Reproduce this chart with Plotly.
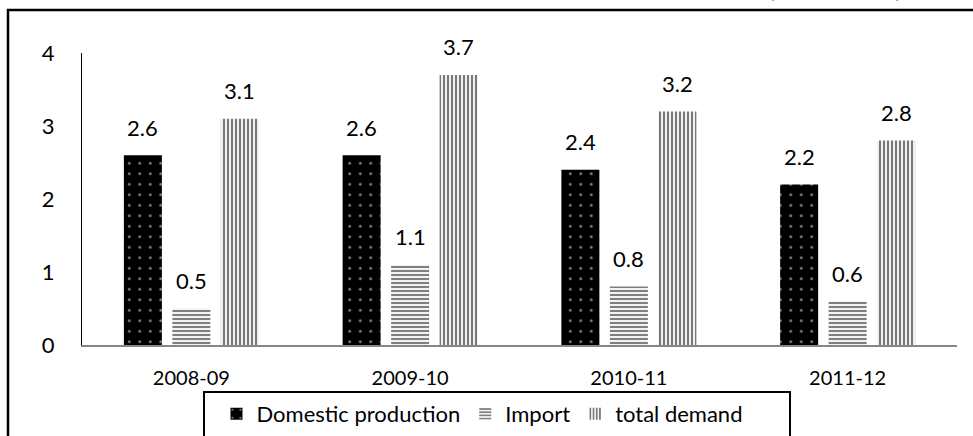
import plotly.graph_objects as go

# data
years = ["2008-09", "2009-10", "2010-11", "2011-12"]
domestic_production = [2.6, 2.6, 2.4, 2.2]
imports = [0.5, 1.1, 0.8, 0.6]
total_demand = [3.1, 3.7, 3.2, 2.8]
y_ticks = [0, 1, 2, 3, 4]

W, H = 973, 436
M = dict(l=82, r=16, t=53, b=91, autoexpand=False)
PLOT_W = W - M["l"] - M["r"]
PLOT_H = H - M["t"] - M["b"]
BARGAP = 0.335
BARGROUPGAP = 0.216
FONT = "Lato"
FS = 22


def px_x(px):
    """pixel column -> paper x"""
    return (px - M["l"]) / PLOT_W


def px_y(py):
    """pixel row -> paper y"""
    return (H - M["b"] - py) / PLOT_H


series = [
    ("Domestic production", domestic_production,
     dict(shape=".", fgcolor="white", bgcolor="black", size=10.5, solidity=0.06)),
    ("Import", imports,
     dict(shape="-", fgcolor="black", bgcolor="white", size=4, solidity=0.55)),
    ("total demand", total_demand,
     dict(shape="|", fgcolor="black", bgcolor="#f0f0f0", size=4, solidity=0.5)),
]

fig = go.Figure()
for name, vals, pat in series:
    fig.add_trace(go.Bar(
        x=years, y=vals, name=name,
        marker=dict(color="black", pattern=pat, line=dict(width=0)),
    ))

# value labels above the bars
slot = PLOT_W / len(years) * (1 - BARGAP) / len(series)
for i, (name, vals, _) in enumerate(series):
    for yr, v in zip(years, vals):
        fig.add_annotation(
            x=yr, y=v, text=f"{v:g}", showarrow=False,
            xshift=(i - 1) * slot, yshift=28, yanchor="middle",
            font=dict(family=FONT, size=FS, color="black"),
        )

# outer frame and legend box
fig.add_shape(type="rect", xref="paper", yref="paper",
              x0=px_x(8), x1=px_x(990), y0=px_y(460), y1=px_y(10),
              line=dict(color="black", width=2.5))
fig.add_shape(type="rect", xref="paper", yref="paper",
              x0=px_x(204), x1=px_x(790), y0=px_y(460), y1=px_y(392),
              line=dict(color="black", width=2))

# subtitle, cut off at the top edge as in the source
fig.add_annotation(xref="paper", yref="paper", x=px_x(835), y=px_y(4),
                   xanchor="center", yanchor="bottom",
                   text="(2008 to 2012)", showarrow=False,
                   font=dict(family=FONT, size=20, color="black"))

fig.update_layout(
    width=W, height=H, margin=M,
    paper_bgcolor="white", plot_bgcolor="white",
    barmode="group", bargap=BARGAP, bargroupgap=BARGROUPGAP,
    font=dict(family=FONT, size=FS, color="black"),
    showlegend=True,
    legend=dict(orientation="h", x=px_x(482), xanchor="center",
                y=px_y(414), yanchor="middle",
                font=dict(family=FONT, size=FS), bgcolor="rgba(0,0,0,0)",
                itemwidth=30, tracegroupgap=0),
)
fig.update_xaxes(type="category", showline=True, linecolor="#868686",
                 linewidth=2, ticks="", ticklabelstandoff=14, showgrid=False,
                 tickfont=dict(family=FONT, size=20))
fig.update_yaxes(range=[0, 4], tickvals=y_ticks, showline=True,
                 linecolor="black", linewidth=1, ticks="",
                 ticklabelstandoff=22, showgrid=False, zeroline=False)

fig.write_html("out.html", config={"displayModeBar": False},
               post_script="document.body.style.margin='0';")
